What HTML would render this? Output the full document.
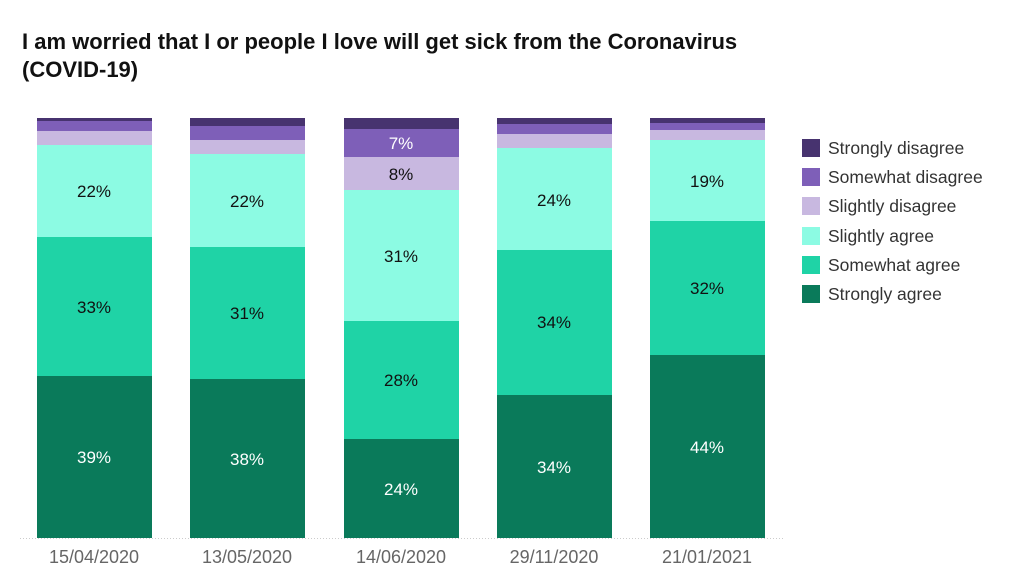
<!DOCTYPE html>
<html><head><style>
body{margin:0;width:1024px;height:585px;background:#fff;font-family:"Liberation Sans",sans-serif;overflow:hidden;position:relative}
.t{position:absolute;left:22px;top:28px;font-size:22px;font-weight:bold;color:#111;line-height:28px}
</style></head><body>
<div class="t">I am worried that I or people I love will get sick from the Coronavirus<br>(COVID-19)</div>
<svg width="1024" height="585" style="position:absolute;left:0;top:0" font-family="Liberation Sans, sans-serif">
<g id="b">
<rect x="37" y="118" width="115" height="3" fill="#47336f"/>
<rect x="37" y="121" width="115" height="10" fill="#7e5fb8"/>
<rect x="37" y="131" width="115" height="14" fill="#c8b8e0"/>
<rect x="37" y="145" width="115" height="92" fill="#8cfbe3"/>
<rect x="37" y="237" width="115" height="139" fill="#1fd3a6"/>
<rect x="37" y="376" width="115" height="162" fill="#0a7a5a"/>
<rect x="190" y="118" width="115" height="8" fill="#47336f"/>
<rect x="190" y="126" width="115" height="14" fill="#7e5fb8"/>
<rect x="190" y="140" width="115" height="14" fill="#c8b8e0"/>
<rect x="190" y="154" width="115" height="93" fill="#8cfbe3"/>
<rect x="190" y="247" width="115" height="132" fill="#1fd3a6"/>
<rect x="190" y="379" width="115" height="159" fill="#0a7a5a"/>
<rect x="344" y="118" width="115" height="11" fill="#47336f"/>
<rect x="344" y="129" width="115" height="28" fill="#7e5fb8"/>
<rect x="344" y="157" width="115" height="33" fill="#c8b8e0"/>
<rect x="344" y="190" width="115" height="131" fill="#8cfbe3"/>
<rect x="344" y="321" width="115" height="118" fill="#1fd3a6"/>
<rect x="344" y="439" width="115" height="99" fill="#0a7a5a"/>
<rect x="497" y="118" width="115" height="6" fill="#47336f"/>
<rect x="497" y="124" width="115" height="10" fill="#7e5fb8"/>
<rect x="497" y="134" width="115" height="14" fill="#c8b8e0"/>
<rect x="497" y="148" width="115" height="102" fill="#8cfbe3"/>
<rect x="497" y="250" width="115" height="145" fill="#1fd3a6"/>
<rect x="497" y="395" width="115" height="143" fill="#0a7a5a"/>
<rect x="650" y="118" width="115" height="5" fill="#47336f"/>
<rect x="650" y="123" width="115" height="7" fill="#7e5fb8"/>
<rect x="650" y="130" width="115" height="10" fill="#c8b8e0"/>
<rect x="650" y="140" width="115" height="81" fill="#8cfbe3"/>
<rect x="650" y="221" width="115" height="134" fill="#1fd3a6"/>
<rect x="650" y="355" width="115" height="183" fill="#0a7a5a"/>
</g>
<line x1="20" y1="538.5" x2="785" y2="538.5" stroke="#ccc" stroke-dasharray="1,2"/>
<g font-size="17" text-anchor="middle" fill="#111">
<text x="94" y="197">22%</text><text x="94" y="313">33%</text><text x="94" y="463" fill="#fff">39%</text>
<text x="247" y="207">22%</text><text x="247" y="319">31%</text><text x="247" y="465" fill="#fff">38%</text>
<text x="401" y="149" fill="#fff">7%</text><text x="401" y="180">8%</text><text x="401" y="262">31%</text><text x="401" y="386">28%</text><text x="401" y="495" fill="#fff">24%</text>
<text x="554" y="206">24%</text><text x="554" y="328">34%</text><text x="554" y="473" fill="#fff">34%</text>
<text x="707" y="187">19%</text><text x="707" y="294">32%</text><text x="707" y="453" fill="#fff">44%</text>
</g>
<g font-size="18" text-anchor="middle" fill="#666">
<text x="94" y="563">15/04/2020</text><text x="247" y="563">13/05/2020</text><text x="401" y="563">14/06/2020</text><text x="554" y="563">29/11/2020</text><text x="707" y="563">21/01/2021</text>
</g>
<g font-size="17.5" fill="#333">
<rect x="802" y="139" width="18" height="18" fill="#47336f"/><text x="828" y="154">Strongly disagree</text>
<rect x="802" y="168" width="18" height="18" fill="#7e5fb8"/><text x="828" y="183">Somewhat disagree</text>
<rect x="802" y="197" width="18" height="18" fill="#c8b8e0"/><text x="828" y="212">Slightly disagree</text>
<rect x="802" y="227" width="18" height="18" fill="#8cfbe3"/><text x="828" y="242">Slightly agree</text>
<rect x="802" y="256" width="18" height="18" fill="#1fd3a6"/><text x="828" y="271">Somewhat agree</text>
<rect x="802" y="285" width="18" height="18" fill="#0a7a5a"/><text x="828" y="300">Strongly agree</text>
</g>
</svg>
</body></html>
